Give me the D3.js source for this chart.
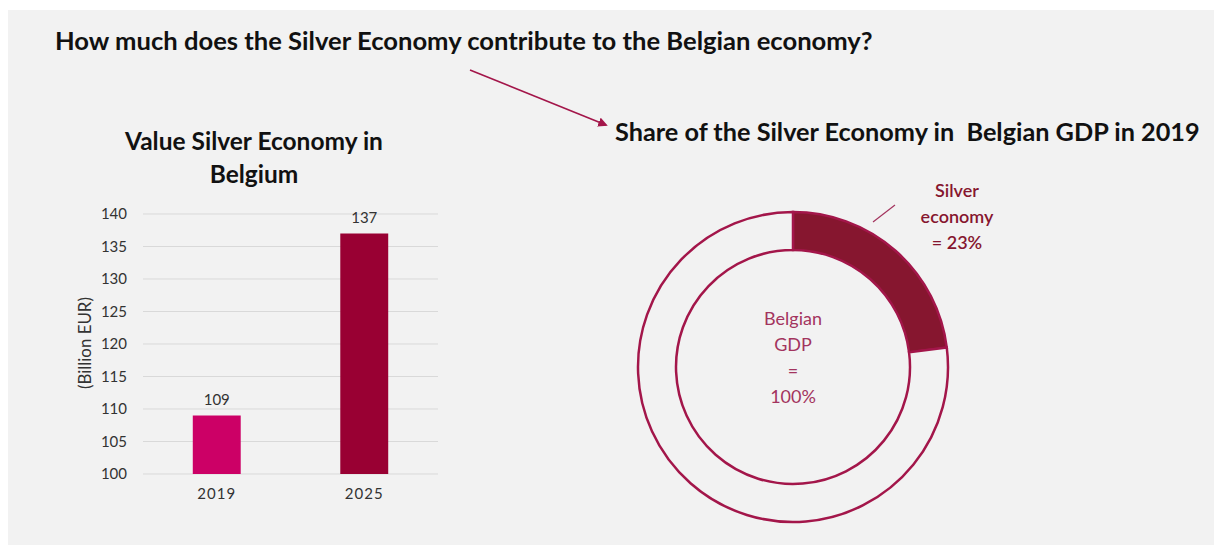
<!DOCTYPE html>
<html><head><meta charset="utf-8">
<script src="https://cdn.jsdelivr.net/npm/d3@7"></script>
<style>
html,body{margin:0;padding:0;background:#fff;}
svg{display:block;font-family:Lato,"Open Sans",sans-serif;}
</style></head>
<body>
<svg id="c" width="1214" height="546"></svg>
<script>
// ---- data ----
const categories = ["2019", "2025"];
const values = [109, 137];
const barColors = ["#cc0066", "#990033"];
const yTicks = [100, 105, 110, 115, 120, 125, 130, 135, 140];
const yDomain = [100, 140];
const shareLabels = ["Silver economy", "Rest of GDP"];
const shareValues = [23, 77];
const mainTitle = "How much does the Silver Economy contribute to the Belgian economy?";
const donutTitle = "Share of the Silver Economy in  Belgian GDP in 2019";
const barTitle = ["Value Silver Economy in", "Belgium"];
const yAxisTitle = "(Billion EUR)";
const centerText = ["Belgian", "GDP", "=", "100%"];
const sliceText = ["Silver", "economy", "= 23%"];

const svg = d3.select("#c");
svg.append("rect").attr("x", 8).attr("y", 10).attr("width", 1206).attr("height", 535).attr("fill", "#f2f2f2");

function fit(sel, w) {
  const l = sel.node().getComputedTextLength();
  const s = parseFloat(sel.attr("font-size"));
  sel.attr("font-size", s * w / l);
  return sel;
}

// main title
fit(svg.append("text").attr("x", 55).attr("y", 50).attr("font-size", 20).attr("font-weight", 700)
  .attr("fill", "#111").text(mainTitle), 818);

// arrow
const defs = svg.append("defs");
defs.append("marker").attr("id", "ah").attr("viewBox", "0 0 10 10").attr("refX", 8).attr("refY", 5)
  .attr("markerWidth", 6).attr("markerHeight", 6).attr("orient", "auto")
  .append("path").attr("d", "M0,0L10,5L0,10z").attr("fill", "#a3164a");
svg.append("line").attr("x1", 470).attr("y1", 70).attr("x2", 606).attr("y2", 125)
  .attr("stroke", "#a3164a").attr("stroke-width", 1.6).attr("marker-end", "url(#ah)");

// donut title
fit(svg.append("text").attr("x", 615).attr("y", 141).attr("font-size", 20).attr("font-weight", 700)
  .attr("fill", "#111").attr("xml:space", "preserve").style("white-space", "pre").text(donutTitle), 585);

// ---- bar chart ----
const bt = svg.append("g");
fit(bt.append("text").attr("x", 254).attr("y", 150).attr("text-anchor", "middle").attr("font-size", 20)
  .attr("font-weight", 700).attr("fill", "#111").text(barTitle[0]), 258);
const bt2 = bt.append("text").attr("x", 254).attr("y", 183).attr("text-anchor", "middle")
  .attr("font-weight", 700).attr("fill", "#111").text(barTitle[1]);
bt2.attr("font-size", bt.select("text").attr("font-size"));

const x0 = 143, x1 = 438;
const y = d3.scaleLinear().domain(yDomain).range([474, 214]);
const x = d3.scaleBand().domain(categories).range([x0, x1]).paddingInner(0.675).paddingOuter(0.3375);

const grid = svg.append("g");
grid.selectAll("line").data(yTicks).join("line")
  .attr("x1", x0).attr("x2", x1).attr("y1", d => y(d)).attr("y2", d => y(d))
  .attr("stroke", "#d9d9d9").attr("stroke-width", 1);

const tickFont = 15;
const yAxis = svg.append("g").attr("transform", `translate(${x0},0)`)
  .call(d3.axisLeft(y).tickValues(yTicks).tickSize(0).tickPadding(16));
yAxis.select(".domain").remove();
yAxis.selectAll("text").attr("font-size", tickFont).attr("fill", "#333").attr("font-family", "Lato,sans-serif");

svg.append("g").selectAll("rect").data(values).join("rect")
  .attr("x", (d, i) => x(categories[i])).attr("width", x.bandwidth())
  .attr("y", d => y(d)).attr("height", d => y(yDomain[0]) - y(d))
  .attr("fill", (d, i) => barColors[i]);

svg.append("g").selectAll("text").data(values).join("text")
  .attr("x", (d, i) => x(categories[i]) + x.bandwidth() / 2).attr("y", d => y(d) - 11)
  .attr("text-anchor", "middle").attr("font-size", tickFont).attr("fill", "#333").text(d => d);

const xAxis = svg.append("g").attr("transform", `translate(0,${y(yDomain[0])})`)
  .call(d3.axisBottom(x).tickSize(0).tickPadding(14));
xAxis.select(".domain").remove();
xAxis.selectAll("text").attr("font-size", tickFont).attr("fill", "#333").attr("font-family", "Lato,sans-serif")
  .attr("letter-spacing", 1);

fit(svg.append("text").attr("transform", "translate(91,343) rotate(-90)").attr("text-anchor", "middle")
  .attr("font-size", 14).attr("fill", "#333").text(yAxisTitle), 92);

// ---- donut ----
const cx = 793, cy = 367;
const pie = d3.pie().sort(null).value(d => d);
const arc = d3.arc().innerRadius(117).outerRadius(155);
const dg = svg.append("g").attr("transform", `translate(${cx},${cy})`);
dg.selectAll("path").data(pie(shareValues)).join("path")
  .attr("d", arc)
  .attr("fill", (d, i) => i === 0 ? "#86162f" : "#f2f2f2")
  .attr("stroke", "#a3164a").attr("stroke-width", 2.5).attr("stroke-linejoin", "miter");

const ct = dg.append("g");
ct.selectAll("text").data(centerText).join("text")
  .attr("x", 0).attr("y", (d, i) => -49 + i * 26 + 7)
  .attr("text-anchor", "middle").attr("font-size", 18).attr("fill", "#a3345e").text(d => d);

// slice label with leader line
svg.append("line").attr("x1", 873).attr("y1", 222).attr("x2", 895).attr("y2", 205)
  .attr("stroke", "#a3345e").attr("stroke-width", 1.2);
svg.append("g").selectAll("text").data(sliceText).join("text")
  .attr("x", 957).attr("y", (d, i) => 197 + i * 26)
  .attr("text-anchor", "middle").attr("font-size", 18).attr("font-weight", 600)
  .attr("fill", "#86162f").text(d => d);
</script>
</body></html>
